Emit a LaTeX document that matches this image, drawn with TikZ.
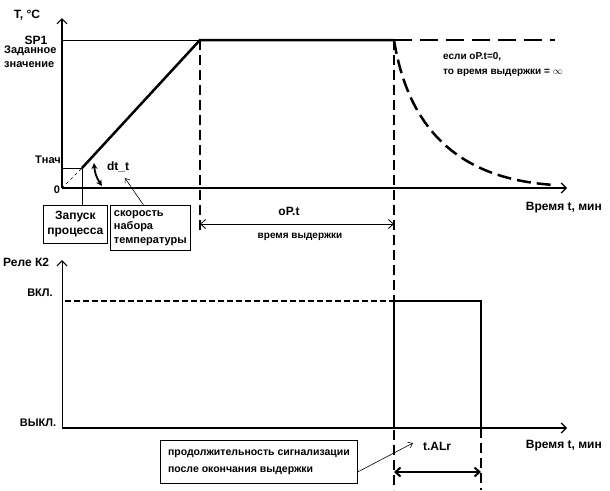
\documentclass[tikz,border=0pt]{standalone}
\usepackage{fontspec}
\setmainfont{Liberation Sans}
\usetikzlibrary{arrows.meta}

\begin{document}
\begin{tikzpicture}[x=1pt, y=-1pt,
		big/.style = {font=\fontsize{12}{15}\selectfont\bfseries, inner sep=0pt},
		mid/.style = {font=\fontsize{11}{14}\selectfont\bfseries, inner sep=0pt},
		small/.style = {font=\fontsize{10}{15}\selectfont\bfseries, inner sep=0pt},
		axis/.style = {line width=1.5pt, -{Straight Barb[length=5pt, width=10pt, line width=1.2pt]}},
		solidline/.style = {line width=2.5pt},
		cutline/.style = {line width=2pt, dash pattern=on 10pt off 5pt},
		textbox/.style = {draw, line width=0.8pt, inner sep=2pt}]
	\useasboundingbox (0,0) rectangle (610,490);

	% temperature chart
	\begin{scope}
		\coordinate (O1) at (62,188);
		\coordinate (Ytop1) at (62,18);
		\coordinate (Xend1) at (567,188);
		\coordinate (Ty) at (62,168);
		\coordinate (Tn) at (82,168);
		\coordinate (SPy) at (62,40);
		\coordinate (SPa) at (200,40);
		\coordinate (SPb) at (394,40);
		\coordinate (SPc) at (555,40);
		\coordinate (tail) at (555,185);

		\draw [axis] (O1) -- (Ytop1);
		\draw [axis, line width=2.5pt] (O1) -- (Xend1);

		\draw [line width=0.8pt] (SPy) -- (SPa);
		\draw [line width=0.8pt] (Ty) -- (Tn);
		\draw [line width=0.6pt, dashed] (O1) -- (Tn);
		\draw [solidline] (Tn) -- (SPa) -- (SPb);
		\draw [solidline, dash pattern=on 18pt off 8pt] (SPb) -- (SPc);
		\draw [solidline, dash pattern=on 14pt off 6pt] (SPb) .. controls (410,140) and (470,180) .. (tail);

		\draw [cutline] (SPa) -- (200,232);
		\draw [cutline] (SPb) -- (394,490);
	\end{scope}

	\begin{scope}
		\node [big] (tlabel) at (27,15) {T, °C};
		\node [big] (splabel) at (36,40) {SP1};
		\node [mid, align=left, anchor=north west] (setlabel) at (4,46) {Заданное\\значение};
		\node [mid] (tnlabel) at (48,160) {Тнач};
		\node [mid] (zero) at (57,190) {0};
		\node [big] (dtlabel) at (118,167) {dt\_t};
		\node [big] (optlabel) at (289,211) {oP.t};
		\node [small] (holdlabel) at (300,237) {время выдержки};
		\node [big, anchor=east] (time1) at (602,208) {Время t, мин};
		\node [small, align=left, anchor=west] (inflabel) at (443,65) {если oP.t=0,\\то время выдержки = $\infty$};

		\node [big, textbox, minimum width=64pt, minimum height=38pt, align=center, anchor=north west] (start) at (43,205) {Запуск\\процесса};
		\node [textbox, font=\fontsize{11}{13.5}\selectfont\bfseries, minimum width=80pt, minimum height=45pt, align=left, anchor=north west] (rate) at (110,205) {скорость\\набора\\температуры};
	\end{scope}

	\coordinate (rateTip) at (125,178);
	\coordinate (hold1) at (200,224);
	\coordinate (hold2) at (394,224);
	\draw [line width=0.8pt] (Tn) -- (Tn |- start.north);
	\draw [line width=0.6pt, -{Straight Barb[length=4pt, width=6pt]}] ([xshift=-7pt]rate.north) -- (rateTip);
	\draw [line width=1.8pt, {Stealth[length=6pt, width=6pt]}-{Stealth[length=6pt, width=6pt]}] (94,163) to [bend right=15] (102,186);
	\draw [line width=0.8pt, {Straight Barb[length=5pt, width=9pt]}-{Straight Barb[length=5pt, width=9pt]}] (hold1) -- (hold2);

	% relay chart
	\begin{scope}
		\coordinate (O2) at (62,428);
		\coordinate (Ytop2) at (62,260);
		\coordinate (Xend2) at (567,428);
		\coordinate (On) at (65,301);
		\coordinate (P1) at (394,301);
		\coordinate (P2) at (481,301);
		\coordinate (P1b) at (394,428);
		\coordinate (P2b) at (481,428);

		\draw [axis, line width=1pt] (O2) -- (Ytop2);
		\draw [axis, line width=2.5pt] (O2) -- (Xend2);
		\draw [line width=2pt, dash pattern=on 6pt off 3pt] (On) -- (P1);
		\draw [solidline] (P1b) -- (P1) -- (P2) -- (P2b);
		\draw [cutline] (P2b) -- (481,490);
	\end{scope}

	\begin{scope}
		\node [big, anchor=west] (relay) at (3,262) {Реле К2};
		\node [mid] (onlabel) at (40,293) {ВКЛ.};
		\node [mid] (offlabel) at (38,423) {ВЫКЛ.};
		\node [big, anchor=east] (time2) at (602,446) {Время t, мин};
		\node [big] (alrlabel) at (437,446) {t.ALr};
		\node [textbox, font=\fontsize{10.5}{17}\selectfont\bfseries, minimum width=197pt, minimum height=43pt, align=left, anchor=north west] (note) at (160,440) {продолжительность сигнализации\\после окончания выдержки};
	\end{scope}

	\coordinate (alrTip) at (413,443);
	\coordinate (alr1) at (394,472);
	\coordinate (alr2) at (481,472);
	\draw [line width=0.6pt, -{Straight Barb[length=4pt, width=6pt]}] ([yshift=-10pt]note.east) -- (alrTip);
	\draw [line width=2pt, {Straight Barb[length=5pt, width=9pt]}-{Straight Barb[length=5pt, width=9pt]}] (alr1) -- (alr2);
\end{tikzpicture}
\end{document}
